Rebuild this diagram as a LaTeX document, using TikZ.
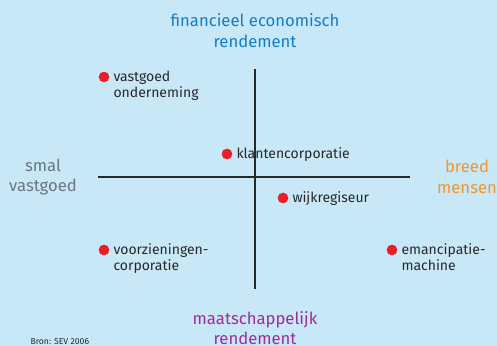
\documentclass[tikz,border=0pt]{standalone}
\usepackage{fontspec}
\setmainfont{Fira Sans}
\definecolor{bgblue}{RGB}{200,232,248}
\definecolor{topblue}{RGB}{20,125,200}
\definecolor{axisorange}{RGB}{240,150,45}
\definecolor{axispurple}{RGB}{160,45,150}
\definecolor{axisgray}{RGB}{105,120,130}
\definecolor{dotred}{RGB}{232,30,40}
\definecolor{labeldark}{RGB}{40,40,40}
\tikzset{every picture/.style={line width=0.75pt}}
\tikzset{
  dot/.style={circle,fill=dotred,inner sep=0pt,minimum size=8pt},
  lbl/.style={text=labeldark,font=\fontsize{10.5}{12}\selectfont,align=left,inner sep=0pt,anchor=north west},
  pole/.style={font=\fontsize{12.5}{15.5}\selectfont,align=center,inner sep=0pt}
}
\begin{document}
\begin{tikzpicture}[x=0.75pt,y=0.75pt,yscale=-1,xscale=1]
    %Background
    \fill[bgblue] (0,0) rectangle (497,346);
    \useasboundingbox (0,0) rectangle (497,346);
    
    %Axis coordinates
    \coordinate (west) at (98,177);
    \coordinate (east) at (410,177);
    \coordinate (north) at (255,69);
    \coordinate (south) at (255,289);
    %Straight Lines
    \draw[labeldark,line width=1pt] (west) -- (east);
    %Straight Lines
    \draw[labeldark,line width=1pt] (north) -- (south);
    
    % Pole Nodes
    \node[pole,text=topblue] (top) at (255,30.5) {financieel economisch\\rendement};
    \node[pole,text=axispurple] (bottom) at (255,328) {maatschappelijk\\rendement};
    \node[pole,text=axisgray] (left) at (43,177) {smal\\vastgoed};
    \node[pole,text=axisorange] (right) at (467,177) {breed\\mensen};
    
    % Dots
    \node[dot] (vo) at (104,77) {};
    \node[dot] (kc) at (227,154) {};
    \node[dot] (wr) at (283,198) {};
    \node[dot] (vc) at (104,250) {};
    \node[dot] (em) at (392,250) {};
    
    % Text Node
    \node[lbl] (volab) at (113,70.5) {vastgoed\\onderneming};
    % Text Node
    \node[lbl] (kclab) at (236,147.5) {klantencorporatie};
    % Text Node
    \node[lbl] (wrlab) at (292,191.5) {wijkregiseur};
    % Text Node
    \node[lbl] (vclab) at (113,243.5) {voorzieningen-\\corporatie};
    % Text Node
    \node[lbl] (emlab) at (401,243.5) {emancipatie-\\machine};
    
    % Text Node
    \node[text=labeldark,font=\fontsize{6.5}{7.5}\selectfont,inner sep=0pt,anchor=west] (bron) at (30,342) {Bron: SEV 2006};
    
\end{tikzpicture}
\end{document}
